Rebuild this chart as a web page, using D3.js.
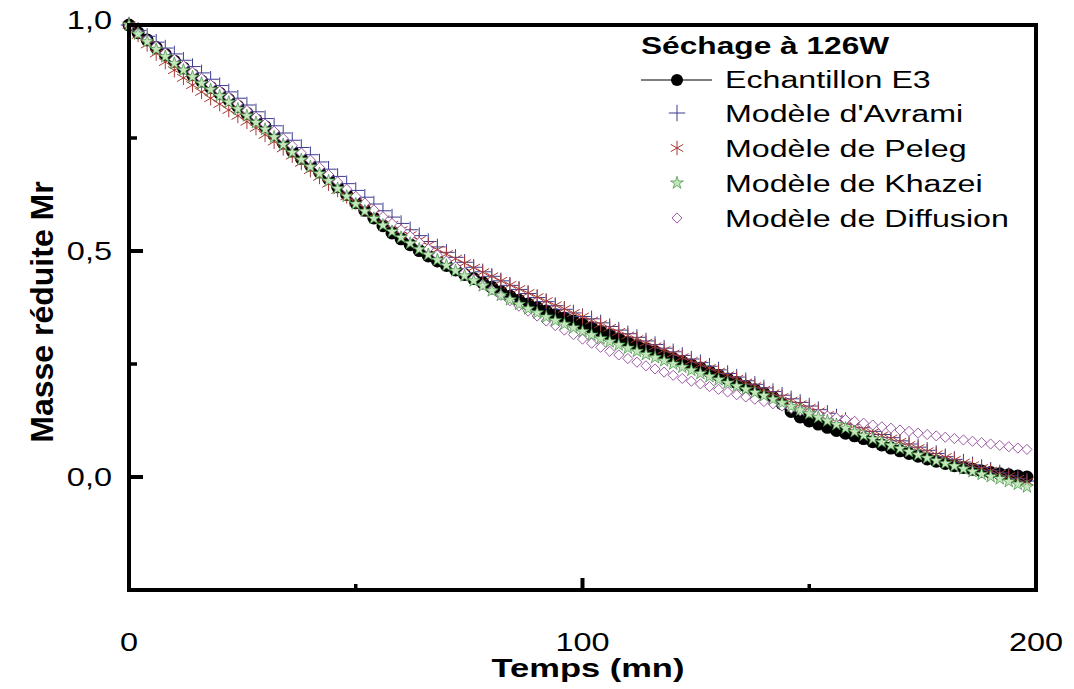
<!DOCTYPE html>
<html>
<head>
<meta charset="utf-8">
<script src="https://cdn.jsdelivr.net/npm/d3@7"></script>
<style>
  body { margin: 0; background: #fff; }
  text { font-family: Arial, "Liberation Sans", sans-serif; }
</style>
</head>
<body>
<script>
//time axis (mn), one point every 2 mn
var temps = d3.range(0, 200, 2);

//experimental points, sample E3
var echantillon = [1.000,0.983,0.967,0.950,0.935,0.920,0.905,0.890,0.876,0.862,
  0.849,0.835,0.820,0.805,0.790,0.775,0.757,0.739,0.721,0.705,
  0.690,0.675,0.660,0.642,0.625,0.607,0.590,0.573,0.556,0.540,
  0.527,0.514,0.501,0.489,0.478,0.468,0.458,0.448,0.439,0.430,
  0.420,0.410,0.400,0.391,0.383,0.375,0.367,0.359,0.352,0.345,
  0.338,0.330,0.322,0.314,0.306,0.298,0.291,0.284,0.277,0.269,
  0.262,0.255,0.248,0.241,0.233,0.225,0.217,0.209,0.201,0.193,
  0.185,0.176,0.162,0.145,0.133,0.124,0.117,0.110,0.103,0.097,
  0.091,0.085,0.078,0.071,0.064,0.058,0.052,0.046,0.040,0.035,
  0.030,0.025,0.021,0.017,0.013,0.010,0.007,0.005,0.002,0.000];

var avrami = [1.000,0.988,0.975,0.962,0.949,0.936,0.922,0.908,0.894,0.880,
  0.866,0.852,0.838,0.823,0.808,0.793,0.777,0.761,0.745,0.729,
  0.713,0.697,0.681,0.665,0.649,0.634,0.619,0.604,0.589,0.575,
  0.561,0.547,0.534,0.521,0.509,0.497,0.486,0.475,0.464,0.454,
  0.444,0.434,0.424,0.415,0.406,0.397,0.388,0.379,0.371,0.363,
  0.355,0.350,0.341,0.333,0.325,0.317,0.309,0.301,0.293,0.285,
  0.277,0.269,0.261,0.253,0.245,0.237,0.229,0.221,0.213,0.205,
  0.197,0.189,0.181,0.173,0.165,0.157,0.149,0.141,0.133,0.125,
  0.117,0.109,0.101,0.094,0.087,0.080,0.073,0.066,0.059,0.052,
  0.045,0.039,0.033,0.027,0.021,0.015,0.009,0.003,-0.003,-0.009];

var peleg = [1.000,0.978,0.957,0.937,0.918,0.900,0.883,0.867,0.852,0.838,
  0.825,0.812,0.799,0.786,0.772,0.757,0.742,0.727,0.711,0.695,
  0.679,0.664,0.649,0.635,0.621,0.608,0.595,0.582,0.570,0.558,
  0.546,0.535,0.524,0.513,0.503,0.493,0.483,0.473,0.463,0.453,
  0.444,0.434,0.425,0.416,0.407,0.398,0.389,0.380,0.372,0.363,
  0.355,0.346,0.338,0.330,0.321,0.313,0.305,0.297,0.289,0.281,
  0.273,0.265,0.257,0.249,0.241,0.233,0.225,0.217,0.209,0.201,
  0.193,0.185,0.177,0.169,0.161,0.153,0.145,0.137,0.129,0.121,
  0.113,0.106,0.099,0.092,0.085,0.078,0.071,0.064,0.057,0.050,
  0.044,0.038,0.032,0.026,0.020,0.014,0.008,0.002,-0.004,-0.010];

var khazei = [1.000,0.980,0.963,0.946,0.930,0.915,0.900,0.885,0.871,0.857,
  0.843,0.829,0.814,0.799,0.784,0.769,0.752,0.735,0.718,0.702,
  0.686,0.671,0.655,0.638,0.621,0.604,0.588,0.572,0.557,0.543,
  0.530,0.517,0.504,0.492,0.480,0.468,0.456,0.445,0.434,0.423,
  0.412,0.402,0.392,0.382,0.372,0.363,0.354,0.346,0.338,0.330,
  0.322,0.314,0.306,0.299,0.292,0.285,0.278,0.271,0.264,0.257,
  0.250,0.243,0.236,0.229,0.222,0.215,0.208,0.201,0.194,0.187,
  0.180,0.172,0.164,0.156,0.148,0.140,0.132,0.124,0.116,0.108,
  0.100,0.092,0.084,0.077,0.070,0.063,0.056,0.049,0.042,0.036,
  0.030,0.024,0.018,0.012,0.006,0.001,-0.004,-0.010,-0.016,-0.022];

var diffusion = [0.998,0.983,0.968,0.953,0.938,0.924,0.910,0.896,0.882,0.868,
  0.854,0.840,0.826,0.811,0.796,0.781,0.765,0.749,0.733,0.717,
  0.701,0.685,0.669,0.653,0.637,0.621,0.606,0.591,0.576,0.561,
  0.547,0.533,0.519,0.505,0.491,0.478,0.465,0.452,0.439,0.426,
  0.414,0.402,0.390,0.378,0.367,0.356,0.345,0.335,0.325,0.315,
  0.305,0.296,0.287,0.278,0.270,0.262,0.254,0.246,0.239,0.232,
  0.225,0.218,0.212,0.206,0.200,0.194,0.188,0.182,0.177,0.172,
  0.167,0.162,0.157,0.152,0.147,0.143,0.139,0.135,0.131,0.127,
  0.123,0.119,0.115,0.111,0.108,0.104,0.101,0.097,0.094,0.091,
  0.088,0.085,0.082,0.079,0.076,0.073,0.070,0.067,0.064,0.061];

//axis ticks
var xTicks = [0, 100, 200];
var xMinor = [50, 150];
var yTicks = [1.0, 0.5, 0.0];
var yMinor = [0.75, 0.25];

//legend text
var legendTitle = "Séchage à 126W";
var legendNames = ["Echantillon E3", "Modèle d'Avrami", "Modèle de Peleg", "Modèle de Khazei", "Modèle de Diffusion"];

var w = 1074, h = 689;
var pLeft = 129, pRight = 1036, pTop = 25, pBottom = 590;

var svg = d3.select("body").append("svg")
    .attr("width", w)
    .attr("height", h);

var x = d3.scaleLinear().domain([0, 200]).range([pLeft, pRight]);
var y = d3.scaleLinear().domain([-0.25, 1.0]).range([pBottom, pTop]);

var fmt = function(d) { return d3.format(".1f")(d).replace(".", ","); };

//helper: text stretched horizontally like the original picture
function stretchText(g, px, py, str, size, sx, anchor, weight) {
    return g.append("text")
        .attr("transform", "translate(" + px + "," + py + ") scale(" + sx + ",1)")
        .attr("text-anchor", anchor)
        .style("font-size", size + "px")
        .style("font-weight", weight || "normal")
        .text(str);
}

//experimental curve: thin line + big black dots
var line = d3.line()
    .x(function(d, i) { return x(temps[i]); })
    .y(function(d) { return y(d); });

svg.append("path")
    .datum(echantillon)
    .attr("d", line)
    .attr("fill", "none")
    .attr("stroke", "black")
    .attr("stroke-width", 1);

svg.selectAll("circle.exp")
    .data(echantillon)
    .enter()
    .append("circle")
    .attr("class", "exp")
    .attr("cx", function(d, i) { return x(temps[i]); })
    .attr("cy", function(d) { return y(d); })
    .attr("r", 6.5)
    .attr("fill", "black");

var asteriskType = d3.symbolAsterisk || d3.symbolCross;
var plusType = d3.symbolPlus || d3.symbolCross;

//model series, drawn as markers only (diamond is widened into a square diamond)
var models = [
    {data: avrami, type: plusType, size: 90, fill: "none", stroke: "#3b3b8f", sw: 1, sx: 1},
    {data: peleg, type: asteriskType, size: 150, fill: "none", stroke: "#a83a33", sw: 1, sx: 1},
    {data: diffusion, type: d3.symbolDiamond, size: 30, fill: "white", stroke: "#9b5aa5", sw: 1, sx: 1.7},
    {data: khazei, type: d3.symbolStar, size: 50, fill: "#c4e6bc", stroke: "#3d8c3d", sw: 0.7, sx: 1}
];

models.forEach(function(m, k) {
    var sym = d3.symbol().type(m.type).size(m.size);
    svg.selectAll("path.m" + k)
        .data(m.data)
        .enter()
        .append("path")
        .attr("class", "m" + k)
        .attr("d", sym)
        .attr("transform", function(d, i) {
            return "translate(" + x(temps[i]) + "," + y(d) + ") scale(" + m.sx + ",1)";
        })
        .attr("fill", m.fill)
        .attr("stroke", m.stroke)
        .attr("stroke-width", m.sw)
        .attr("vector-effect", "non-scaling-stroke");
});

//frame
svg.append("rect")
    .attr("x", pLeft)
    .attr("y", pTop)
    .attr("width", pRight - pLeft)
    .attr("height", pBottom - pTop)
    .attr("fill", "none")
    .attr("stroke", "black")
    .attr("stroke-width", 4);

//inward ticks
svg.selectAll("line.xt")
    .data(xTicks.slice(1, 2))
    .enter().append("line")
    .attr("x1", function(d) { return x(d); })
    .attr("x2", function(d) { return x(d); })
    .attr("y1", pBottom).attr("y2", pBottom - 12)
    .attr("stroke", "black").attr("stroke-width", 4);

svg.selectAll("line.xm")
    .data(xMinor)
    .enter().append("line")
    .attr("x1", function(d) { return x(d); })
    .attr("x2", function(d) { return x(d); })
    .attr("y1", pBottom).attr("y2", pBottom - 6)
    .attr("stroke", "black").attr("stroke-width", 3.5);

svg.selectAll("line.yt")
    .data(yTicks.slice(1))
    .enter().append("line")
    .attr("x1", pLeft).attr("x2", pLeft + 14)
    .attr("y1", function(d) { return y(d); })
    .attr("y2", function(d) { return y(d); })
    .attr("stroke", "black").attr("stroke-width", 4);

svg.selectAll("line.ym")
    .data(yMinor)
    .enter().append("line")
    .attr("x1", pLeft).attr("x2", pLeft + 8)
    .attr("y1", function(d) { return y(d); })
    .attr("y2", function(d) { return y(d); })
    .attr("stroke", "black").attr("stroke-width", 3.5);

//tick labels
xTicks.forEach(function(d) {
    stretchText(svg, x(d), 651, d, 26, 1.25, "middle");
});
yTicks.forEach(function(d) {
    var dy = d === 1.0 ? 4 : 9;
    stretchText(svg, 112, y(d) + dy, fmt(d), 26, 1.25, "end");
});

//axis titles
stretchText(svg, 588, 677, "Temps (mn)", 25, 1.38, "middle", "bold");

svg.append("text")
    .attr("transform", "translate(53,312) rotate(-90)")
    .attr("text-anchor", "middle")
    .style("font-size", "32px")
    .style("font-weight", "bold")
    .text("Masse réduite Mr");

//legend
stretchText(svg, 641, 54, legendTitle, 24, 1.32, "start", "bold");

var legY = [88, 122, 157, 192, 227];
legendNames.forEach(function(name, i) {
    stretchText(svg, 725, legY[i], name, 23, 1.4, "start");
});

//legend symbols
var symX = 677;
svg.append("line")
    .attr("x1", 641).attr("x2", 712)
    .attr("y1", legY[0] - 8).attr("y2", legY[0] - 8)
    .attr("stroke", "black").attr("stroke-width", 1.2);
svg.append("circle")
    .attr("cx", symX).attr("cy", legY[0] - 8)
    .attr("r", 6).attr("fill", "black");

models.forEach(function(m, k) {
    var order = [1, 2, 4, 3][k];
    svg.append("path")
        .attr("d", d3.symbol().type(m.type).size(m.size))
        .attr("transform", "translate(" + symX + "," + (legY[order] - 9) + ") scale(" + m.sx + ",1)")
        .attr("fill", m.fill)
        .attr("stroke", m.stroke)
        .attr("stroke-width", m.sw)
        .attr("vector-effect", "non-scaling-stroke");
});
</script>
</body>
</html>
